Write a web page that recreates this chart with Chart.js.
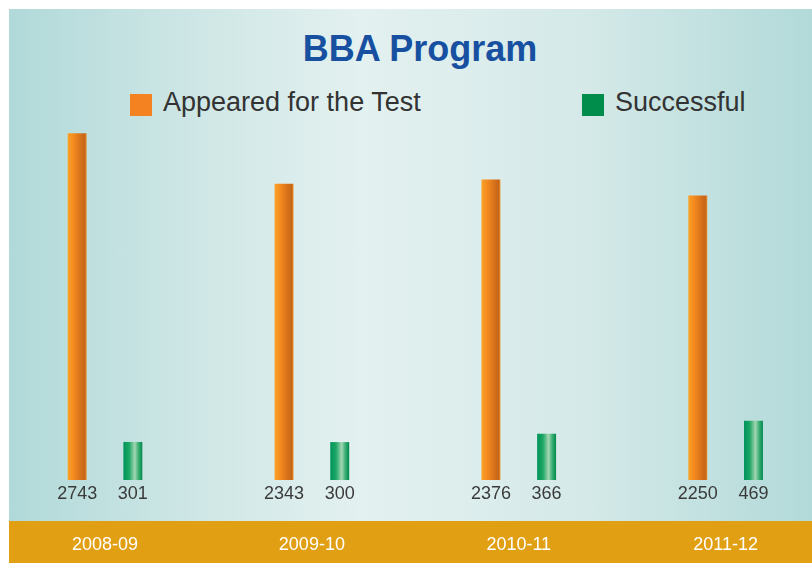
<!DOCTYPE html>
<html>
<head>
<meta charset="utf-8">
<title>BBA Program</title>
<script src="https://cdn.jsdelivr.net/npm/chart.js@4.4.1/dist/chart.umd.min.js"></script>
<style>
  html, body { margin: 0; padding: 0; background: #fff; }
  #wrap { position: relative; width: 812px; height: 563px; overflow: hidden; font-family: "Liberation Sans", Arial, sans-serif; }
  #panel { position: absolute; left: 9px; top: 9px; width: 803px; height: 554px;
    background: linear-gradient(to right, #b1d9d9 0%, #cde6e5 22%, #e3f1f0 44%, #d4e9e8 72%, #b2dad9 100%); }
  #band { position: absolute; left: 9px; top: 521px; width: 803px; height: 42px; background: #e19f13; }
  #title { position: absolute; left: 0; top: 31px; width: 840px; text-align: center;
    font-weight: bold; font-size: 36px; line-height: 36px; color: #1750a0; }
  .lg-box { position: absolute; top: 94px; width: 22px; height: 22px; }
  .lg-text { position: absolute; top: 89px; font-size: 27px; line-height: 27px; color: #333; white-space: nowrap; }
  canvas { position: absolute; left: 0; top: 0; }
</style>
</head>
<body>
<div id="wrap">
  <div id="panel"></div>
  <div id="band"></div>
  <div id="title">BBA Program</div>
  <div id="legend"></div>
  <canvas id="chart" width="812" height="563"></canvas>
</div>
<script>
// data
const categories = ["2008-09", "2009-10", "2010-11", "2011-12"];
const appeared   = [2743, 2343, 2376, 2250];
const successful = [301, 300, 366, 469];
const seriesNames = ["Appeared for the Test", "Successful"];
const yMax = 2800;

(function(){
  const orangeStops = [[0, "#f9a328"], [0.3, "#f48a1f"], [0.7, "#d6701a"], [0.9, "#c5661a"], [1, "#ec8d22"]];
  const greenStops  = [[0, "#00935a"], [0.3, "#1ba665"], [0.6, "#a3d5b2"], [0.8, "#3aae72"], [1, "#00884c"]];

  // horizontal gradient across each bar (needs element position, so 2nd update fills it in)
  const barFill = (stops, plain) => c => {
    const el = c.element;
    if (!el || !isFinite(el.x) || !el.width) return plain;
    const g = c.chart.ctx.createLinearGradient(el.x - el.width / 2, 0, el.x + el.width / 2, 0);
    stops.forEach(([o, col]) => g.addColorStop(o, col));
    return g;
  };

  // legend built from the series
  const legendSwatch = ["#f58220", "#008c4a"];
  const legendLeft = [130, 582];
  const lg = document.getElementById("legend");
  seriesNames.forEach((name, i) => {
    const b = document.createElement("div");
    b.className = "lg-box";
    b.style.left = legendLeft[i] + "px";
    b.style.background = legendSwatch[i];
    const t = document.createElement("div");
    t.className = "lg-text";
    t.style.left = (legendLeft[i] + 33) + "px";
    t.textContent = name;
    lg.appendChild(b); lg.appendChild(t);
  });

  // value under each bar
  const valueLabels = {
    id: "valueLabels",
    afterDatasetsDraw(chart) {
      const ctx = chart.ctx;
      ctx.save();
      ctx.font = "18px 'Liberation Sans', Arial, sans-serif";
      ctx.fillStyle = "#3a3a3a";
      ctx.textAlign = "center";
      ctx.textBaseline = "middle";
      chart.data.datasets.forEach((ds, i) => {
        chart.getDatasetMeta(i).data.forEach((bar, j) => {
          ctx.fillText(String(ds.data[j]), bar.x, chart.chartArea.bottom + 14.5);
        });
      });
      ctx.restore();
    }
  };

  Chart.defaults.font.family = "'Liberation Sans', Arial, sans-serif";

  const chart = new Chart(document.getElementById("chart").getContext("2d"), {
    type: "bar",
    data: {
      labels: categories,
      datasets: [
        { label: seriesNames[0], data: appeared, backgroundColor: barFill(orangeStops, "#f58220"),
          categoryPercentage: 0.5385, barPercentage: 0.34, clip: false },
        { label: seriesNames[1], data: successful, backgroundColor: barFill(greenStops, "#008c4a"),
          categoryPercentage: 0.5385, barPercentage: 0.34, clip: false }
      ]
    },
    options: {
      responsive: false,
      animation: false,
      layout: { padding: { top: 126, bottom: 7, left: 105, right: 83 } },
      plugins: {
        legend: { display: false },
        title: { display: false },
        tooltip: { enabled: false }
      },
      scales: {
        x: {
          offset: false,
          grid: { display: false, drawTicks: false },
          border: { display: false },
          ticks: { color: "#ffffff", font: { size: 18 }, padding: 54 },
          afterFit: s => { s.height = 76; }
        },
        y: { display: false, min: 0, max: yMax }
      }
    },
    plugins: [valueLabels]
  });
  chart.update("none");
})();
</script>
</body>
</html>
